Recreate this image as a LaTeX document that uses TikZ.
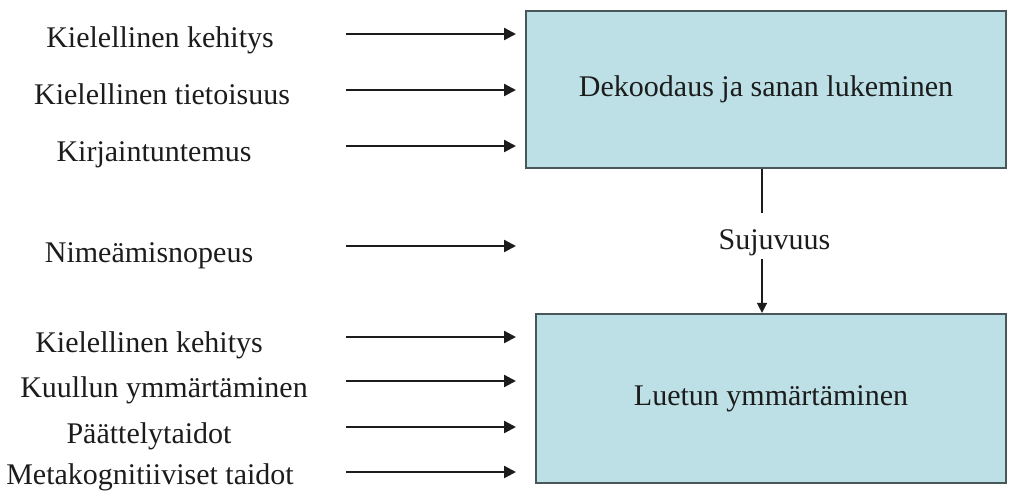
\documentclass[tikz,border=0pt]{standalone}
\usepackage{fontspec}
\setmainfont{Liberation Serif}
\usetikzlibrary{arrows.meta}
\definecolor{boxfill}{RGB}{188,224,229}
\definecolor{boxline}{RGB}{72,88,90}
\definecolor{ink}{RGB}{28,28,28}
\tikzset{
  every node/.style={font=\fontsize{30}{35}\selectfont, text=ink, inner sep=0pt},
  label/.style={anchor=base},
  stagebox/.style={draw=boxline, line width=2.2pt, fill=boxfill, rectangle},
  feed/.style={draw=ink, line width=2.4pt, -{Triangle[length=12pt,width=12pt]}},
  flow/.style={draw=ink, line width=1.4pt},
  flowarrow/.style={flow, -{Triangle[length=10pt,width=10pt]}}
}
\begin{document}
\begin{tikzpicture}[x=1pt,y=-1pt]
\useasboundingbox (0,0) rectangle (1009,491);

% the two stage boxes
\node[stagebox, minimum width=480pt, minimum height=157pt] (dek) at (766,89.5) {Dekoodaus ja sanan lukeminen};
\node[stagebox, minimum width=470pt, minimum height=169pt] (lue) at (771,398.5) {Luetun ymmärtäminen};

% factors feeding decoding
\node[label] (k1) at (160,47) {Kielellinen kehitys};
\node[label] (k2) at (162,104) {Kielellinen tietoisuus};
\node[label] (k3) at (154,161) {Kirjaintuntemus};
\node[label] (k4) at (149,262) {Nimeämisnopeus};

% factors feeding comprehension
\node[label] (c1) at (149,352) {Kielellinen kehitys};
\node[label] (c2) at (164,397) {Kuullun ymmärtäminen};
\node[label] (c3) at (149,443) {Päättelytaidot};
\node[label] (c4) at (150,484) {Metakognitiiviset taidot};

% arrow tails and heads
\foreach \n/\y in {k1/34,k2/90,k3/146,k4/246,c1/337,c2/381,c3/427,c4/472}{
  \coordinate (\n s) at (346,\y);
  \coordinate (\n e) at (516,\y);
}
\foreach \n in {k1,k2,k3,k4,c1,c2,c3,c4}{
  \draw[feed] (\n s) -- (\n e);
}

% fluency link between the boxes
\node[label] (suj) at (774.5,249) {Sujuvuus};
\coordinate (flowtop) at (762,213);
\coordinate (flowmid) at (762,259);
\draw[flow] (dek.south -| flowtop) -- (flowtop);
\draw[flowarrow] (flowmid) -- (lue.north -| flowmid);
\end{tikzpicture}
\end{document}
